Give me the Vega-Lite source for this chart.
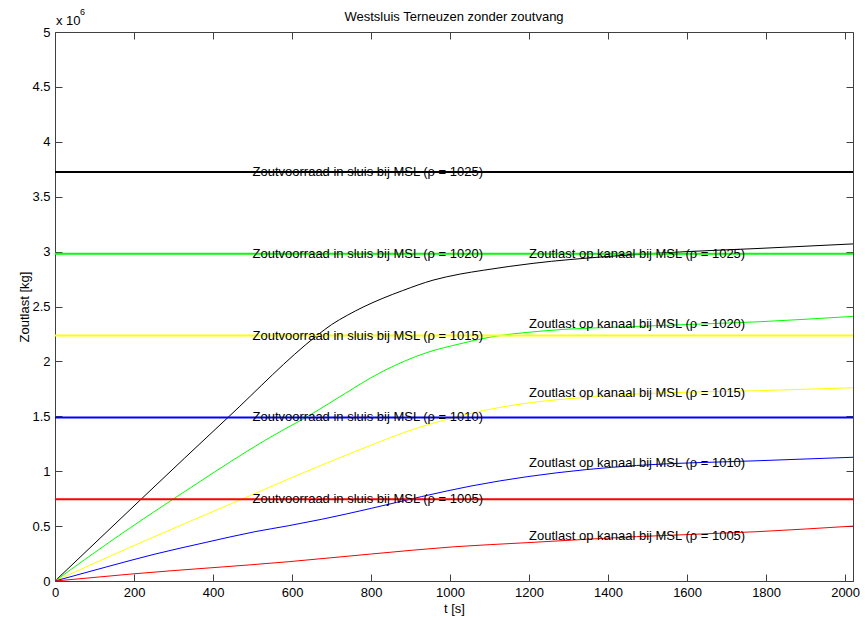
{
  "$schema": "https://vega.github.io/schema/vega-lite/v6.json",
  "width": 798,
  "height": 549,
  "autosize": {"type": "none"},
  "padding": {"left": 55, "top": 32, "right": 12, "bottom": 39},
  "background": "white",
  "title": {
    "text": "Westsluis Terneuzen zonder zoutvang",
    "font": "Liberation Sans",
    "fontSize": 13,
    "fontWeight": "normal",
    "color": "#000000",
    "anchor": "middle",
    "offset": -16
  },
  "config": {
    "view": {"stroke": "#404040", "strokeWidth": 1},
    "axis": {
      "grid": false,
      "domainColor": "#404040",
      "tickColor": "#404040",
      "tickSize": -7,
      "labelFont": "Liberation Sans",
      "labelFontSize": 13,
      "labelColor": "#000000",
      "titleFont": "Liberation Sans",
      "titleFontSize": 13,
      "titleFontWeight": "normal",
      "titleColor": "#000000"
    },
    "text": {"font": "Liberation Sans", "fontSize": 13}
  },
  "datasets": {
    "zoutlast": [
      {"rho": 1025, "t": 0, "v": 0},
      {"rho": 1025, "t": 218, "v": 745000},
      {"rho": 1025, "t": 438, "v": 1490000},
      {"rho": 1025, "t": 663, "v": 2235000},
      {"rho": 1025, "t": 700, "v": 2335000},
      {"rho": 1025, "t": 740, "v": 2420000},
      {"rho": 1025, "t": 780, "v": 2495000},
      {"rho": 1025, "t": 830, "v": 2575000},
      {"rho": 1025, "t": 880, "v": 2645000},
      {"rho": 1025, "t": 957, "v": 2740000},
      {"rho": 1025, "t": 1025, "v": 2795000},
      {"rho": 1025, "t": 1084, "v": 2830000},
      {"rho": 1025, "t": 1210, "v": 2893000},
      {"rho": 1025, "t": 1397, "v": 2955000},
      {"rho": 1025, "t": 1600, "v": 3000000},
      {"rho": 1025, "t": 1777, "v": 3028000},
      {"rho": 1025, "t": 2020, "v": 3070000},

      {"rho": 1020, "t": 0, "v": 0},
      {"rho": 1020, "t": 150, "v": 385000},
      {"rho": 1020, "t": 299, "v": 745000},
      {"rho": 1020, "t": 577, "v": 1375000},
      {"rho": 1020, "t": 633, "v": 1485000},
      {"rho": 1020, "t": 704, "v": 1640000},
      {"rho": 1020, "t": 830, "v": 1910000},
      {"rho": 1020, "t": 941, "v": 2080000},
      {"rho": 1020, "t": 1025, "v": 2160000},
      {"rho": 1020, "t": 1100, "v": 2220000},
      {"rho": 1020, "t": 1228, "v": 2275000},
      {"rho": 1020, "t": 1481, "v": 2320000},
      {"rho": 1020, "t": 1777, "v": 2360000},
      {"rho": 1020, "t": 2020, "v": 2410000},

      {"rho": 1015, "t": 0, "v": 0},
      {"rho": 1015, "t": 198, "v": 320000},
      {"rho": 1015, "t": 473, "v": 745000},
      {"rho": 1015, "t": 592, "v": 930000},
      {"rho": 1015, "t": 759, "v": 1178000},
      {"rho": 1015, "t": 927, "v": 1405000},
      {"rho": 1015, "t": 1011, "v": 1490000},
      {"rho": 1015, "t": 1095, "v": 1560000},
      {"rho": 1015, "t": 1195, "v": 1620000},
      {"rho": 1015, "t": 1346, "v": 1673000},
      {"rho": 1015, "t": 1472, "v": 1703000},
      {"rho": 1015, "t": 1777, "v": 1733000},
      {"rho": 1015, "t": 2020, "v": 1760000},

      {"rho": 1010, "t": 0, "v": 0},
      {"rho": 1010, "t": 127, "v": 125000},
      {"rho": 1010, "t": 253, "v": 245000},
      {"rho": 1010, "t": 380, "v": 350000},
      {"rho": 1010, "t": 506, "v": 449000},
      {"rho": 1010, "t": 592, "v": 504000},
      {"rho": 1010, "t": 675, "v": 562000},
      {"rho": 1010, "t": 801, "v": 662000},
      {"rho": 1010, "t": 927, "v": 768000},
      {"rho": 1010, "t": 1053, "v": 865000},
      {"rho": 1010, "t": 1195, "v": 950000},
      {"rho": 1010, "t": 1346, "v": 1015000},
      {"rho": 1010, "t": 1472, "v": 1052000},
      {"rho": 1010, "t": 1777, "v": 1095000},
      {"rho": 1010, "t": 2020, "v": 1127000},

      {"rho": 1005, "t": 0, "v": 0},
      {"rho": 1005, "t": 198, "v": 65000},
      {"rho": 1005, "t": 592, "v": 176000},
      {"rho": 1005, "t": 801, "v": 246000},
      {"rho": 1005, "t": 1011, "v": 312000},
      {"rho": 1005, "t": 1195, "v": 349000},
      {"rho": 1005, "t": 1346, "v": 380000},
      {"rho": 1005, "t": 1472, "v": 404000},
      {"rho": 1005, "t": 1777, "v": 449000},
      {"rho": 1005, "t": 2020, "v": 500000}
    ],
    "voorraad": [
      {"rho": 1025, "v": 3725000, "label": "Zoutvoorraad in sluis bij MSL (ρ = 1025)"},
      {"rho": 1020, "v": 2980000, "label": "Zoutvoorraad in sluis bij MSL (ρ = 1020)"},
      {"rho": 1015, "v": 2235000, "label": "Zoutvoorraad in sluis bij MSL (ρ = 1015)"},
      {"rho": 1010, "v": 1490000, "label": "Zoutvoorraad in sluis bij MSL (ρ = 1010)"},
      {"rho": 1005, "v": 745000, "label": "Zoutvoorraad in sluis bij MSL (ρ = 1005)"}
    ],
    "lastlabels": [
      {"rho": 1025, "t": 1200, "v": 2978000, "label": "Zoutlast op kanaal bij MSL (ρ = 1025)"},
      {"rho": 1020, "t": 1200, "v": 2338000, "label": "Zoutlast op kanaal bij MSL (ρ = 1020)"},
      {"rho": 1015, "t": 1200, "v": 1709000, "label": "Zoutlast op kanaal bij MSL (ρ = 1015)"},
      {"rho": 1010, "t": 1200, "v": 1072000, "label": "Zoutlast op kanaal bij MSL (ρ = 1010)"},
      {"rho": 1005, "t": 1200, "v": 413000, "label": "Zoutlast op kanaal bij MSL (ρ = 1005)"}
    ]
  },
  "resolve": {"axis": {"x": "independent", "y": "independent"}},
  "layer": [
    {
      "data": {"name": "zoutlast"},
      "mark": {"type": "line", "strokeWidth": 1, "clip": true, "interpolate": "monotone"},
      "encoding": {
        "x": {
          "field": "t", "type": "quantitative",
          "scale": {"domain": [0, 2020], "nice": false, "zero": false},
          "axis": {"orient": "bottom", "title": "t [s]", "values": [0, 200, 400, 600, 800, 1000, 1200, 1400, 1600, 1800, 2000], "format": "d", "labelPadding": 12, "titlePadding": 3, "labelFlush": false, "labelOverlap": false}
        },
        "y": {
          "field": "v", "type": "quantitative",
          "scale": {"domain": [0, 5000000], "nice": false},
          "axis": {"orient": "left", "title": "Zoutlast [kg]", "values": [0, 500000, 1000000, 1500000, 2000000, 2500000, 3000000, 3500000, 4000000, 4500000, 5000000], "labelExpr": "format(datum.value / 1000000, '~g')", "labelPadding": 12, "titlePadding": 0, "labelFlush": false, "labelOverlap": false}
        },
        "color": {
          "field": "rho", "type": "nominal",
          "scale": {"domain": [1005, 1010, 1015, 1020, 1025], "range": ["#ff0000", "#0000ff", "#ffff00", "#00ff00", "#000000"]},
          "legend": null
        },
        "order": {"field": "t", "type": "quantitative"}
      }
    },
    {
      "data": {"name": "voorraad"},
      "mark": {"type": "rule", "strokeWidth": 2},
      "encoding": {
        "y": {"field": "v", "type": "quantitative", "axis": null},
        "color": {"field": "rho", "type": "nominal", "legend": null}
      }
    },
    {
      "data": {"name": "voorraad"},
      "mark": {"type": "text", "align": "left", "baseline": "middle", "color": "#000000"},
      "encoding": {
        "x": {"datum": 500, "type": "quantitative", "axis": null},
        "y": {"field": "v", "type": "quantitative", "axis": null},
        "text": {"field": "label"}
      }
    },
    {
      "data": {"name": "lastlabels"},
      "mark": {"type": "text", "align": "left", "baseline": "middle", "color": "#000000"},
      "encoding": {
        "x": {"field": "t", "type": "quantitative", "axis": {"orient": "top", "title": null, "labels": false, "domain": false, "values": [0, 200, 400, 600, 800, 1000, 1200, 1400, 1600, 1800, 2000]}},
        "y": {"field": "v", "type": "quantitative", "axis": {"orient": "right", "title": null, "labels": false, "domain": false, "values": [0, 500000, 1000000, 1500000, 2000000, 2500000, 3000000, 3500000, 4000000, 4500000, 5000000]}},
        "text": {"field": "label"}
      }
    },
    {
      "data": {"values": [{"t": 0, "v": 5000000, "label": "x 10"}]},
      "mark": {"type": "text", "align": "left", "baseline": "alphabetic", "dx": 1, "dy": -7, "color": "#000000"},
      "encoding": {
        "x": {"field": "t", "type": "quantitative", "axis": null},
        "y": {"field": "v", "type": "quantitative", "axis": null},
        "text": {"field": "label"}
      }
    },
    {
      "data": {"values": [{"t": 0, "v": 5000000, "label": "6"}]},
      "mark": {"type": "text", "align": "left", "baseline": "alphabetic", "dx": 25, "dy": -17, "fontSize": 9, "color": "#000000"},
      "encoding": {
        "x": {"field": "t", "type": "quantitative", "axis": null},
        "y": {"field": "v", "type": "quantitative", "axis": null},
        "text": {"field": "label"}
      }
    }
  ]
}
